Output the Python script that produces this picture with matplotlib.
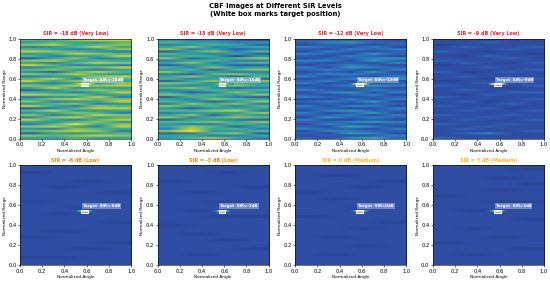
import numpy as np
import matplotlib.pyplot as plt
from matplotlib.colors import LinearSegmentedColormap
from matplotlib.patches import Rectangle

sir_levels = [-18, -15, -12, -9, -6, -3, 0, 3]
sir_names = ['Very Low', 'Very Low', 'Very Low', 'Very Low', 'Low', 'Low', 'Medium', 'Medium']
title_colors = ['#e8202a', '#e8202a', '#e8202a', '#e8202a', '#ff7f0e', '#ff7f0e', '#ffb52a', '#ffb52a']

# band levels, top row first, 0 (dark blue) to 9 (yellow)
img_m18 = [
    [6, 5, 7, 8, 8], [4, 6, 5, 4, 6], [7, 8, 5, 6, 7], [3, 4, 6, 8, 5], [6, 5, 3, 4, 7], [8, 7, 6, 4, 3],
    [4, 5, 8, 7, 6], [6, 3, 4, 5, 8], [2, 5, 7, 3, 4], [7, 8, 4, 6, 5], [5, 3, 6, 8, 7], [8, 6, 3, 4, 3],
    [3, 5, 7, 6, 8], [6, 7, 4, 3, 5], [4, 2, 6, 8, 6], [7, 6, 8, 5, 4], [3, 4, 5, 7, 8], [6, 8, 3, 4, 6],
    [8, 5, 7, 8, 5], [4, 3, 5, 4, 7], [7, 6, 8, 7, 8], [5, 8, 4, 5, 4], [2, 4, 6, 7, 6], [6, 5, 3, 5, 8],
    [8, 7, 7, 4, 5], [3, 4, 5, 8, 3], [5, 7, 8, 6, 7], [7, 3, 4, 5, 8], [4, 6, 7, 3, 4], [8, 5, 3, 7, 6],
    [2, 3, 6, 8, 8], [6, 8, 4, 4, 5], [4, 5, 7, 6, 3], [7, 3, 5, 8, 7], [3, 7, 8, 4, 6], [8, 5, 3, 6, 8],
    [5, 4, 6, 7, 4], [3, 6, 9, 5, 7], [7, 8, 5, 3, 8], [4, 3, 7, 6, 5], [6, 7, 8, 7, 3], [2, 5, 4, 5, 6],
    [7, 6, 7, 8, 7], [5, 4, 6, 4, 5],
]
img_m15 = [
    [4, 3, 3, 2, 1], [6, 5, 4, 3, 4], [3, 4, 6, 5, 2], [5, 7, 3, 4, 5], [7, 3, 5, 2, 3], [2, 5, 7, 3, 6],
    [6, 4, 3, 5, 2], [4, 6, 5, 1, 4], [7, 2, 4, 6, 7], [3, 5, 6, 3, 3], [5, 7, 3, 5, 6], [2, 4, 5, 2, 2],
    [6, 3, 7, 4, 5], [4, 6, 2, 6, 7], [7, 4, 5, 3, 3], [3, 2, 6, 7, 5], [5, 7, 4, 2, 6], [6, 3, 5, 5, 2],
    [2, 5, 7, 3, 7], [7, 6, 3, 6, 4], [4, 3, 5, 7, 5], [6, 7, 4, 2, 3], [3, 4, 6, 5, 6], [5, 2, 3, 7, 4],
    [7, 5, 6, 4, 7], [2, 6, 5, 3, 2], [5, 3, 7, 6, 5], [6, 4, 2, 4, 7], [3, 7, 5, 7, 3], [7, 5, 6, 3, 6],
    [4, 2, 4, 5, 5], [6, 6, 7, 8, 3], [3, 4, 5, 4, 7], [5, 7, 2, 6, 4], [7, 3, 6, 7, 6], [2, 5, 4, 3, 2],
    [6, 6, 7, 5, 7], [4, 3, 3, 6, 4], [5, 7, 6, 2, 5], [3, 8, 5, 6, 3], [7, 9, 4, 4, 6], [2, 3, 6, 7, 2],
    [5, 5, 3, 3, 5], [4, 6, 7, 5, 3],
]
img_m12 = [
    [2, 2, 2, 2, 1], [2, 3, 4, 2, 2], [1, 2, 2, 1, 2], [3, 2, 1, 3, 1], [2, 1, 3, 2, 3], [1, 3, 2, 1, 2],
    [3, 2, 1, 4, 2], [2, 1, 3, 2, 1], [1, 2, 2, 3, 4], [3, 3, 1, 4, 2], [2, 1, 2, 1, 3], [1, 2, 3, 2, 1],
    [3, 1, 4, 3, 2], [2, 3, 2, 1, 3], [1, 2, 1, 4, 1], [2, 3, 3, 2, 2], [3, 1, 2, 1, 3], [1, 2, 3, 3, 4],
    [2, 3, 1, 2, 1], [3, 1, 2, 1, 2], [1, 2, 3, 4, 3], [2, 1, 2, 2, 1], [3, 2, 1, 3, 2], [1, 3, 4, 1, 3],
    [2, 1, 2, 3, 1], [3, 2, 1, 2, 2], [1, 1, 3, 1, 3], [2, 3, 2, 4, 1], [1, 2, 1, 2, 2], [3, 1, 3, 3, 1],
    [2, 2, 1, 1, 3], [1, 3, 4, 2, 2], [3, 1, 2, 4, 1], [2, 2, 3, 1, 3], [1, 4, 2, 3, 2], [3, 1, 1, 2, 1],
    [2, 2, 3, 4, 3], [1, 3, 2, 1, 2], [2, 1, 5, 3, 1], [3, 2, 2, 1, 3], [1, 3, 3, 2, 2], [2, 1, 4, 3, 1],
    [1, 2, 1, 2, 3], [2, 1, 3, 5, 2],
]
img_m9 = [
    [1, 1, 1, 1, 1], [1, 1, 2, 1, 1], [0, 1, 1, 1, 1], [1, 2, 1, 1, 2], [1, 1, 1, 2, 1], [2, 1, 0, 1, 1],
    [1, 1, 1, 1, 0], [1, 0, 2, 1, 1], [1, 1, 1, 2, 1], [2, 1, 1, 1, 1], [1, 2, 1, 0, 2], [0, 1, 1, 1, 1],
    [1, 1, 2, 1, 1], [1, 1, 1, 1, 2], [2, 0, 1, 2, 1], [1, 1, 1, 1, 1], [1, 2, 1, 1, 1], [1, 1, 0, 1, 2],
    [0, 1, 1, 2, 1], [1, 1, 2, 1, 1], [2, 1, 1, 1, 2], [1, 1, 1, 0, 1], [1, 2, 1, 1, 1], [1, 1, 1, 2, 2],
    [1, 0, 2, 1, 1], [2, 1, 1, 1, 1], [1, 1, 1, 1, 2], [1, 2, 0, 1, 1], [1, 1, 1, 2, 1], [2, 1, 1, 1, 1],
    [1, 1, 2, 0, 1], [1, 2, 1, 1, 2], [1, 1, 1, 1, 1], [2, 1, 1, 2, 1], [1, 1, 2, 1, 1], [1, 2, 1, 1, 2],
    [1, 1, 1, 1, 1], [2, 1, 1, 2, 1], [1, 1, 2, 1, 1], [1, 2, 1, 1, 1], [1, 1, 1, 1, 2], [1, 2, 3, 1, 1],
    [1, 1, 1, 1, 1], [2, 1, 1, 1, 1],
]
img_m6 = [
    [1, 1, 1, 1], [1, 1, 1, 1], [0, 1, 1, 1], [1, 1, 1, 1], [1, 1, 1, 1], [1, 1, 0, 1], [1, 1, 1, 1],
    [1, 0, 1, 1], [1, 1, 1, 1], [1, 1, 1, 0], [1, 1, 1, 1], [1, 1, 1, 1], [0, 1, 1, 1], [1, 1, 1, 1],
    [1, 1, 0, 1], [1, 1, 1, 1], [1, 0, 1, 1], [1, 1, 1, 1], [1, 1, 1, 1], [1, 1, 1, 0], [1, 1, 1, 1],
    [1, 1, 1, 1], [1, 0, 1, 1], [1, 1, 1, 1], [0, 1, 1, 1], [1, 1, 1, 1], [1, 1, 1, 0], [1, 1, 1, 1],
    [1, 1, 0, 1], [1, 1, 1, 1], [1, 1, 1, 1], [0, 0, 1, 1], [1, 1, 1, 1], [1, 1, 1, 1],
]
img_m3 = [
    [1, 1, 1, 1], [1, 1, 1, 1], [1, 1, 0, 1], [1, 1, 1, 1], [1, 1, 1, 1], [0, 1, 1, 1], [1, 1, 1, 1],
    [1, 1, 1, 0], [1, 1, 1, 1], [1, 0, 1, 1], [1, 1, 1, 1], [1, 1, 1, 1], [1, 1, 0, 1], [1, 1, 1, 1],
    [1, 1, 1, 1], [1, 0, 1, 1], [1, 1, 1, 1], [1, 1, 0, 0], [1, 1, 1, 1], [1, 1, 1, 1], [0, 1, 1, 1],
    [1, 1, 1, 1], [1, 1, 1, 1], [1, 0, 1, 1], [1, 1, 1, 1], [1, 1, 0, 1], [1, 1, 1, 1], [1, 1, 1, 1],
    [1, 1, 1, 0], [1, 1, 1, 1], [1, 0, 1, 1], [1, 1, 1, 1], [1, 1, 1, 1], [1, 1, 1, 1],
]
img_0 = [
    [1, 1, 1, 1], [1, 1, 1, 1], [1, 1, 1, 1], [1, 0, 1, 1], [1, 1, 1, 1], [1, 1, 1, 0], [1, 1, 1, 1],
    [1, 1, 0, 1], [1, 1, 1, 1], [0, 1, 1, 1], [1, 1, 1, 1], [1, 0, 1, 1], [1, 1, 1, 1], [1, 1, 1, 1],
    [1, 1, 0, 1], [1, 1, 1, 1], [1, 1, 1, 1], [0, 1, 1, 1], [1, 1, 1, 1], [1, 1, 1, 0], [1, 1, 1, 1],
    [1, 1, 0, 1], [1, 1, 1, 1], [1, 1, 1, 1], [1, 0, 1, 1], [1, 1, 1, 1], [1, 1, 1, 1], [1, 1, 0, 1],
    [1, 1, 1, 1], [1, 1, 1, 1], [1, 0, 1, 1], [1, 1, 1, 1], [1, 1, 1, 1], [1, 1, 1, 1],
]
img_3 = [
    [1, 1, 1, 1], [1, 1, 1, 0], [1, 1, 1, 1], [1, 1, 1, 1], [1, 1, 0, 1], [1, 1, 1, 1], [1, 1, 1, 0],
    [1, 1, 1, 1], [1, 1, 0, 1], [1, 1, 1, 1], [0, 1, 1, 1], [1, 1, 1, 1], [1, 1, 0, 0], [1, 1, 1, 1],
    [1, 1, 1, 1], [1, 0, 1, 1], [1, 1, 1, 1], [1, 1, 1, 1], [1, 1, 1, 0], [1, 1, 1, 1], [1, 1, 1, 1],
    [1, 0, 1, 1], [1, 1, 1, 1], [1, 1, 1, 1], [1, 1, 0, 1], [1, 1, 1, 1], [0, 1, 1, 1], [1, 1, 1, 1],
    [1, 1, 1, 0], [1, 1, 1, 1], [1, 0, 1, 1], [1, 1, 1, 1], [1, 1, 1, 1], [1, 1, 1, 1],
]
images = [img_m18, img_m15, img_m12, img_m9, img_m6, img_m3, img_0, img_3]

# the target streak along its own range row
streak_m18 = [6, 7, 8, 9, 9, 9, 8, 7, 6]
streak_m15 = [4, 5, 6, 7, 8, 7, 6, 5, 4]
streak_m12 = [2, 5, 8, 9, 9, 9, 8, 5, 2]
streak_m9 = [1, 4, 8, 9, 9, 9, 8, 4, 1]
streak_m6 = [1, 2, 5, 8, 9, 8, 5, 2, 1]
streak_m3 = [1, 2, 5, 8, 9, 8, 5, 2, 1]
streak_0 = [1, 2, 5, 8, 9, 8, 5, 2, 1]
streak_3 = [1, 2, 5, 8, 9, 8, 5, 2, 1]
streaks = [streak_m18, streak_m15, streak_m12, streak_m9, streak_m6, streak_m3, streak_0, streak_3]

cmap = LinearSegmentedColormap.from_list('cbf', ['#2a4496', '#2f4ea4', '#2f62b6', '#2b7fc0', '#2a9ab0',
                                                 '#32a896', '#55b578', '#90c24a', '#c4cc30', '#f0dc20'])

fig, axes = plt.subplots(2, 4, figsize=(5.5, 2.82), dpi=100)
for i, ax in enumerate(axes.flat):
    # repeat the rows so the bands stay thin and only blur along the angle
    ax.imshow(np.repeat(images[i], 4, axis=0), cmap=cmap, vmin=0, vmax=9, aspect='auto', extent=(0, 1, 0, 1),
              interpolation='bilinear')
    ax.imshow([streaks[i]], cmap=cmap, vmin=0, vmax=9, aspect='auto',
              extent=(0.48, 0.68, 0.535, 0.548), interpolation='bilinear')
    ax.add_patch(Rectangle((0.55, 0.525), 0.06, 0.03, facecolor=(1, 1, 1, 0.5), edgecolor='white', linewidth=0.7))
    ax.text(0.565, 0.59, f'Target  SIR={sir_levels[i]}dB', color='white', fontsize=2.8, fontweight='bold',
            va='center', bbox=dict(boxstyle='square,pad=0.25', facecolor='#c8d8f0', edgecolor='none', alpha=0.45))
    ax.set_xlim(0, 1)
    ax.set_ylim(0, 1)
    ax.set_xticks(np.arange(0, 1.01, 0.2))
    ax.set_yticks(np.arange(0, 1.01, 0.2))
    ax.tick_params(labelsize=3.7, length=1.3, width=0.4, pad=1.2)
    ax.set_xlabel('Normalized Angle', fontsize=3.1, labelpad=1)
    ax.set_ylabel('Normalized Range', fontsize=3.1, labelpad=1)
    ax.set_title(f'SIR = {sir_levels[i]} dB ({sir_names[i]})', color=title_colors[i], fontsize=3.5,
                 fontweight='bold', pad=2.5)
    for s in ax.spines.values():
        s.set_linewidth(0.4)

fig.suptitle('CBF Images at Different SIR Levels\n(White box marks target position)', fontsize=4.9,
             fontweight='bold', y=0.99, linespacing=1.35)
fig.subplots_adjust(left=0.0364, right=0.989, top=0.862, bottom=0.060, wspace=0.239, hspace=0.267)
fig.savefig('out.png', dpi=100)
